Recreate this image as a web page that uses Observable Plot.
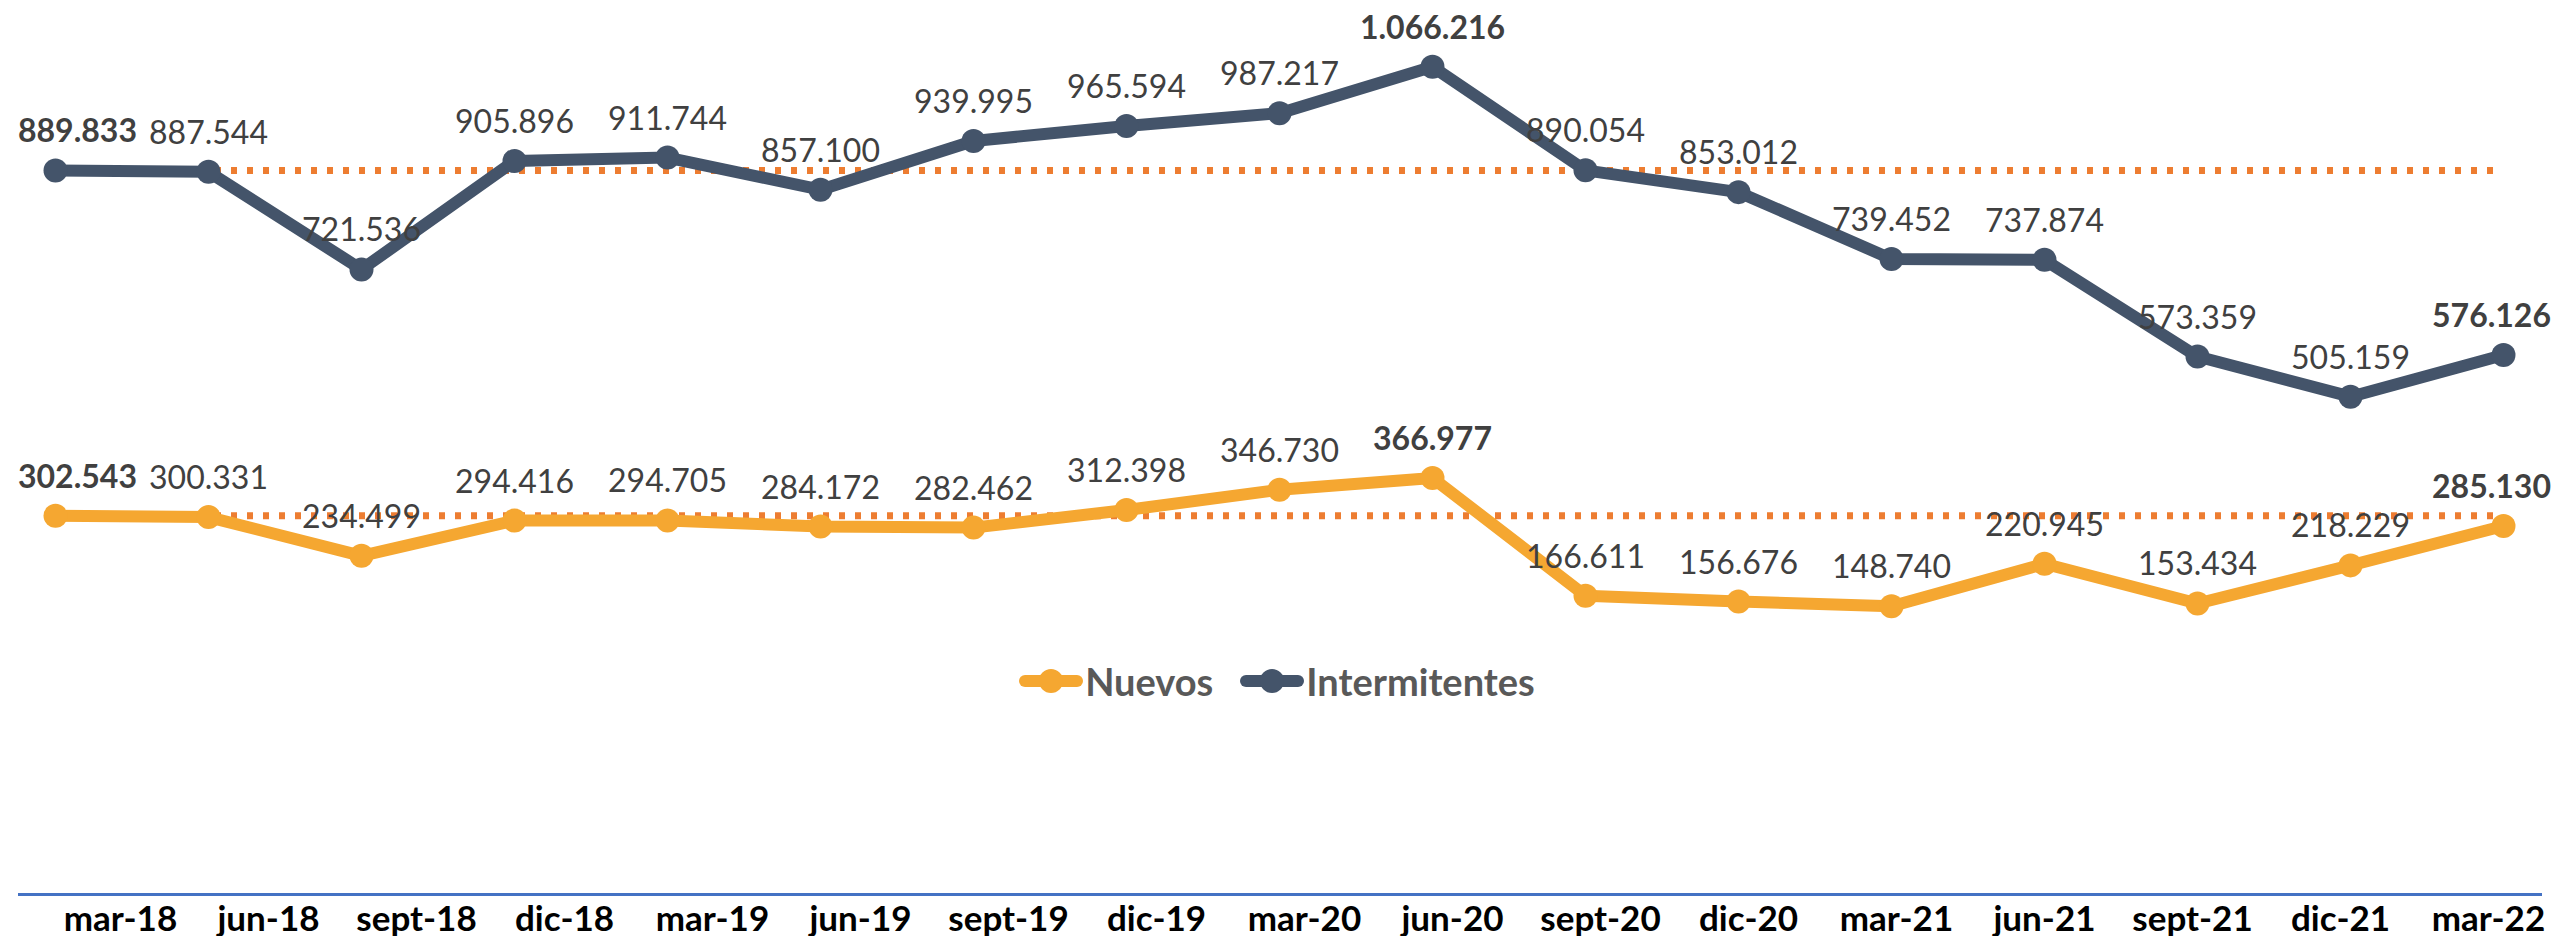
<!DOCTYPE html>
<html>
<head>
<meta charset="utf-8">
<script src="https://cdn.jsdelivr.net/npm/d3@7"></script>
<script src="https://cdn.jsdelivr.net/npm/@observablehq/plot@0.6"></script>
<style>
  html, body { margin: 0; padding: 0; background: #fff; }
  #wrap { position: relative; width: 2554px; height: 936px; overflow: hidden; font-family: Lato, "Open Sans", sans-serif; }
  #axis { position: absolute; left: 0; top: 894px; }
  #legend { position: absolute; left: 0; top: 656px; width: 2554px; height: 50px; display: flex; justify-content: center; align-items: center; }
  .item { display: flex; align-items: center; font-weight: 700; font-size: 38px; color: #595959; }
  .item + .item { margin-left: 27px; }
  .item svg { margin-right: 2px; }
</style>
</head>
<body>
<div id="wrap">
  <div id="chart"></div>
  <div id="axis"></div>
  <div id="legend"></div>
</div>
<script>
const categories = ["mar-18","jun-18","sept-18","dic-18","mar-19","jun-19","sept-19","dic-19","mar-20","jun-20","sept-20","dic-20","mar-21","jun-21","sept-21","dic-21","mar-22"];
const intermitentes = [889833, 887544, 721536, 905896, 911744, 857100, 939995, 965594, 987217, 1066216, 890054, 853012, 739452, 737874, 573359, 505159, 576126];
const nuevos = [302543, 300331, 234499, 294416, 294705, 284172, 282462, 312398, 346730, 366977, 166611, 156676, 148740, 220945, 153434, 218229, 285130];
const seriesNames = ["Nuevos", "Intermitentes"];
const seriesColors = ["#F5A731", "#44546A"];
const refColor = "#ED7D31";

const locale = d3.formatLocale({decimal: ",", thousands: ".", grouping: [3], currency: ["", ""]});
const fmt = locale.format(",d");

const seriesValues = {Nuevos: nuevos, Intermitentes: intermitentes};
const rows = [];
for (const s of seriesNames) {
  const vals = seriesValues[s];
  const mx = d3.max(vals);
  vals.forEach((v, i) => rows.push({
    series: s, date: categories[i], value: v,
    first: i === 0, last: i === vals.length - 1, max: v === mx
  }));
}
const refs = seriesNames.map(s => ({series: s, value: seriesValues[s][0]}));

const labelOpts = {x: "date", y: "value", text: d => fmt(d.value), fill: "#404040", fontSize: 32, lineAnchor: "bottom", dy: -28};

const chart = Plot.plot({
  width: 2554,
  height: 936,
  marginLeft: 19,
  marginRight: 14,
  marginTop: 17,
  marginBottom: 42,
  style: {fontFamily: "Lato, sans-serif", background: "transparent"},
  x: {type: "point", domain: categories, padding: 0, insetLeft: 35.5, insetRight: 37.5, axis: null},
  y: {domain: [0, 1150000], insetBottom: 200.8, axis: null},
  color: {domain: seriesNames, range: seriesColors},
  marks: [
    Plot.frame({anchor: "bottom", stroke: "#4472C4", strokeWidth: 3}),
    Plot.ruleY(refs, {x1: () => categories[0], x2: () => categories[categories.length - 1], y: "value", stroke: refColor, strokeWidth: 7, strokeDasharray: "6 10"}),
    Plot.line(rows, {x: "date", y: "value", z: "series", stroke: "series", strokeWidth: 12, strokeLinejoin: "round"}),
    Plot.dot(rows, {x: "date", y: "value", fill: "series", r: 12}),
    Plot.text(rows.filter(d => !d.first && !d.last && !d.max), {...labelOpts}),
    Plot.text(rows.filter(d => !d.first && !d.last && d.max), {...labelOpts, fontWeight: 700}),
    Plot.text(rows.filter(d => d.first), {...labelOpts, fontWeight: 700, textAnchor: "start", dx: -37.5}),
    Plot.text(rows.filter(d => d.last), {...labelOpts, fontWeight: 700, textAnchor: "end", dx: 47.5})
  ]
});
document.getElementById("chart").appendChild(chart);

const axis = Plot.plot({
  width: 2554,
  height: 42,
  marginLeft: 119.8,
  marginRight: 66.2,
  marginTop: 36,
  marginBottom: 6,
  style: {fontFamily: "Lato, sans-serif", background: "transparent", overflow: "visible"},
  x: {type: "point", domain: categories, padding: 0},
  marks: [
    Plot.axisX({anchor: "top", tickSize: 0, tickPadding: 0, fontSize: 35, fontWeight: 700, fill: "#000"})
  ]
});
document.getElementById("axis").appendChild(axis);

const legend = document.getElementById("legend");
seriesNames.forEach((name, i) => {
  const item = document.createElement("div");
  item.className = "item";
  item.innerHTML = `<svg width="64" height="30"><line x1="6" x2="58" y1="15" y2="15" stroke="${seriesColors[i]}" stroke-width="12" stroke-linecap="round"/><circle cx="32" cy="15" r="12" fill="${seriesColors[i]}"/></svg><span>${name}</span>`;
  legend.appendChild(item);
});
</script>
</body>
</html>
